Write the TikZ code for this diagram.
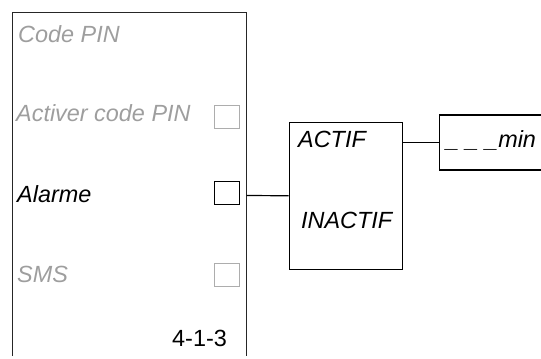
\documentclass[tikz,border=0pt]{standalone}
\usepackage{fontspec}
\setmainfont{Liberation Sans}
\begin{document}
\begin{tikzpicture}[x=1bp,y=-1bp,
  lbl/.style={anchor=base west,inner sep=0pt,font=\fontsize{23.5}{28}\selectfont\itshape},
  dim/.style={text=black!38},
  chk/.style={draw,line width=1.2bp,minimum width=25bp,minimum height=23bp,inner sep=0pt},
  chkgray/.style={chk,draw=black!32},
  box/.style={draw,line width=1.2bp,inner sep=0pt},
  wire/.style={line width=1.2bp}]
\useasboundingbox (0,0) rectangle (541,358);
\clip (0,0) rectangle (541,358);
% left panel
\draw[line width=1.4bp,black!85] (12.5,356) -- (12.5,12.5) -- (246.5,12.5) -- (246.5,356);
\coordinate (pr) at (246.5,195.5);
\node[lbl,dim] (code) at (18,42) {Code PIN};
\node[lbl,dim] (activer) at (16,121) {Activer code PIN};
\node[lbl] (alarme) at (17,202) {Alarme};
\node[lbl,dim] (sms) at (17,282) {SMS};
\node[anchor=base west,inner sep=0pt,font=\fontsize{23.5}{28}\selectfont] (num) at (172,346) {4-1-3};
\node[chkgray] (c1) at (227,117) {};
\node[chk] (c2) at (227,193) {};
\node[chkgray] (c3) at (227,275) {};
% middle box
\node[box,minimum width=113bp,minimum height=147bp] (mid) at (345.75,195.75) {};
\node[lbl] (actif) at (298,147) {ACTIF};
\node[lbl] (inactif) at (301,228) {INACTIF};
% right box
\node[box,minimum width=120bp,minimum height=55bp,anchor=west] (minbox) at (439,142.5) {};
\node[lbl] (mintxt) at (446,147) {\_ \_ \_min};
% connectors
\draw[wire] (pr) -- (mid.west);
\draw[wire] (mid.east |- minbox.west) -- (minbox.west);
\end{tikzpicture}
\end{document}
